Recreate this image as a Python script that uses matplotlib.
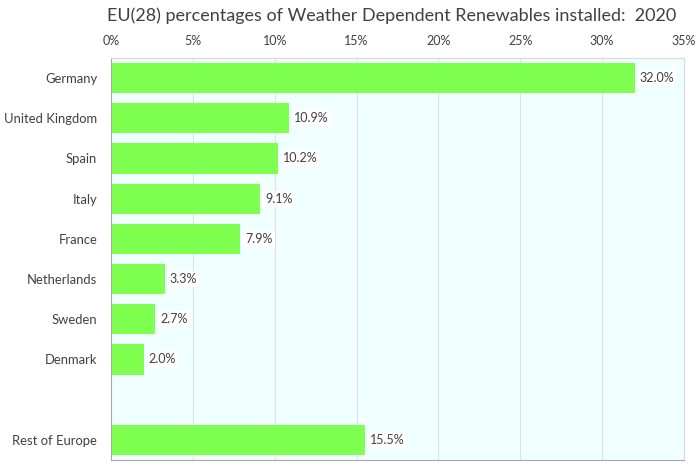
import matplotlib
matplotlib.use('Agg')
import matplotlib.pyplot as plt
import numpy as np

# data
countries = ['Germany', 'United Kingdom', 'Spain', 'Italy', 'France',
             'Netherlands', 'Sweden', 'Denmark', '', 'Rest of Europe']
shares = [32.0, 10.9, 10.2, 9.1, 7.9, 3.3, 2.7, 2.0, None, 15.5]
ticks = [0, 5, 10, 15, 20, 25, 30, 35]

plt.rcParams['font.family'] = ['Lato', 'DejaVu Sans']
txt = '#404040'

fig = plt.figure(figsize=(7, 4.7), dpi=100)
ax = fig.add_axes([0.1586, 0.0213, 0.8184, 0.8553])
ax.set_facecolor('#f0ffff')

ypos = np.arange(len(countries))
for y, v in zip(ypos, shares):
    if v is None:
        continue
    ax.barh(y, v, height=0.75, color='#7fff50', zorder=2)
    ax.text(v + 0.3, y, '%.1f%%' % v, va='center', ha='left', fontsize=9,
            color=txt, zorder=3,
            bbox=dict(facecolor='white', edgecolor='none', pad=1.5))

ax.set_xlim(0, 35)
ax.set_ylim(len(countries) - 0.5, -0.5)
ax.set_yticks(ypos)
ax.set_yticklabels(countries, fontsize=9.4, color=txt)
ax.set_xticks(ticks)
ax.set_xticklabels(['%d%%' % t for t in ticks], fontsize=9, color=txt)
ax.xaxis.tick_top()
ax.tick_params(axis='y', length=0, pad=10)
ax.tick_params(axis='x', length=0, pad=8)
ax.grid(axis='x', color='#e0e0e0', lw=0.8, zorder=1)

for s in ['top', 'right']:
    ax.spines[s].set_color('#d9d9d9')
for s in ['left', 'bottom']:
    ax.spines[s].set_color('#a6a6a6')

fig.suptitle('EU(28) percentages of Weather Dependent Renewables installed:  2020',
             fontsize=13, color=txt, x=0.56, y=0.985)

plt.savefig('out.png', dpi=100)
